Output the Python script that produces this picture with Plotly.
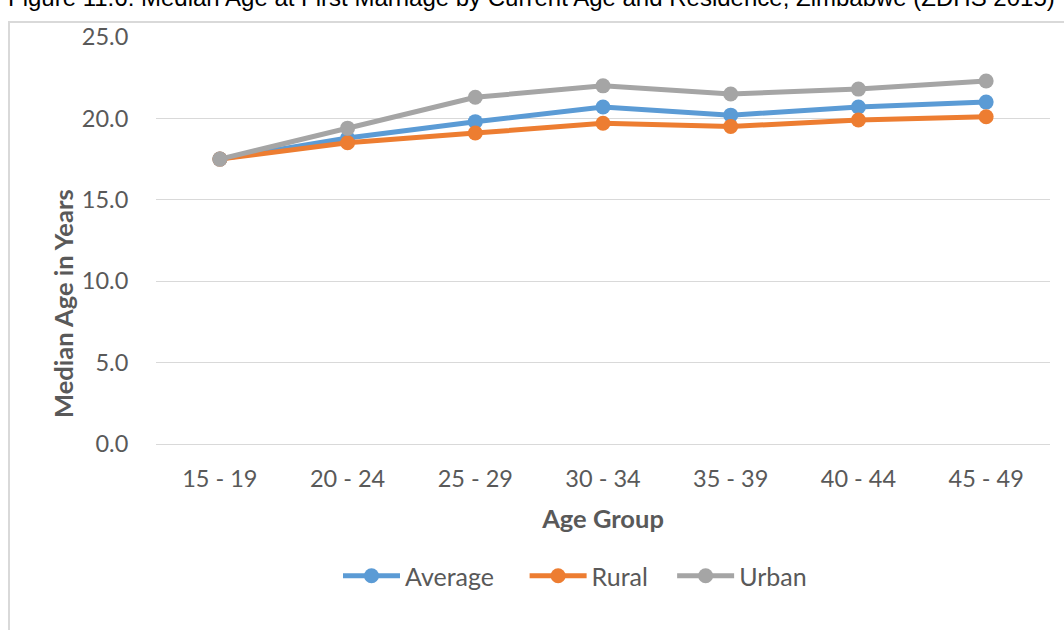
import plotly.graph_objects as go

categories = ["15 - 19", "20 - 24", "25 - 29", "30 - 34", "35 - 39", "40 - 44", "45 - 49"]
average = [17.5, 18.8, 19.8, 20.7, 20.2, 20.7, 21.0]
rural = [17.5, 18.5, 19.1, 19.7, 19.5, 19.9, 20.1]
urban = [17.5, 19.4, 21.3, 22.0, 21.5, 21.8, 22.3]
y_ticks = [0, 5, 10, 15, 20, 25]
y_tick_labels = ["0.0", "5.0", "10.0", "15.0", "20.0", "25.0"]

NB = "\u00a0"
title_text = "Figure 11.6:" + NB * 1 + "Median Age at First Marriage by Current Age and Residence, Zimbabwe (ZDHS 2015)"

W, H = 1064, 630
L, R, T, B = 156, 14, 37, 186
pw, ph = W - L - R, H - T - B

def px_x(p):
    return (p - L) / pw

def px_y(p):
    return (H - B - p) / ph

font_main = "Lato, 'Open Sans', sans-serif"
gray_text = "#595959"

fig = go.Figure()
series = [("Average", average, "#5B9BD5", NB * 4),
          ("Rural", rural, "#ED7D31", NB * 3),
          ("Urban", urban, "#A5A5A5", "")]
for name, vals, col, pad in series:
    fig.add_trace(go.Scatter(
        x=categories, y=vals, name=name + pad, mode="lines+markers",
        line=dict(color=col, width=5),
        marker=dict(color=col, size=15),
        hovertemplate=name + ": %{y:.1f}<extra></extra>",
    ))

fig.update_layout(
    width=W, height=H,
    margin=dict(l=L, r=R, t=T, b=B, autoexpand=False),
    paper_bgcolor="white", plot_bgcolor="white",
    font=dict(family=font_main, color=gray_text, size=23),
    showlegend=True,
    legend=dict(orientation="h", x=px_x(575), xanchor="center", y=px_y(576), yanchor="middle",
                font=dict(size=25, color=gray_text), itemwidth=57, traceorder="normal"),
    xaxis=dict(type="category", range=[-0.5, 6.5], showgrid=False, showline=True,
               linecolor="#D9D9D9", linewidth=1, ticks="outside", ticklen=14, tickcolor="rgba(0,0,0,0)",
               tickfont=dict(size=23.5, color=gray_text),
               title=dict(text="<b>Age Group</b>", font=dict(size=25.5, color=gray_text), standoff=18)),
    yaxis=dict(range=[0, 25], tickvals=y_ticks, ticktext=y_tick_labels, showgrid=True,
               gridcolor="#D9D9D9", gridwidth=1, zeroline=False, showline=False,
               ticks="outside", ticklen=22, tickcolor="rgba(0,0,0,0)",
               tickfont=dict(size=23.5, color=gray_text)),
)

fig.add_annotation(text="<b>Median Age in Years</b>", xref="paper", yref="paper",
                   x=px_x(63), y=px_y(304), xanchor="center", yanchor="middle",
                   textangle=-90, showarrow=False,
                   font=dict(family=font_main, size=25.5, color=gray_text))

fig.add_shape(type="rect", xref="paper", yref="paper",
              x0=px_x(9), x1=px_x(1200), y0=px_y(800), y1=px_y(22),
              line=dict(color="#D9D9D9", width=2), fillcolor="rgba(0,0,0,0)", layer="below")

fig.add_annotation(text=title_text, xref="paper", yref="paper", x=px_x(6), y=px_y(-2),
                   xanchor="left", yanchor="middle", showarrow=False,
                   font=dict(family="Liberation Sans, Arial, sans-serif", size=24, color="black"))

fig.write_html("out.html", config={"displayModeBar": False},
               post_script="document.body.style.margin='0';document.body.style.overflow='hidden';")
